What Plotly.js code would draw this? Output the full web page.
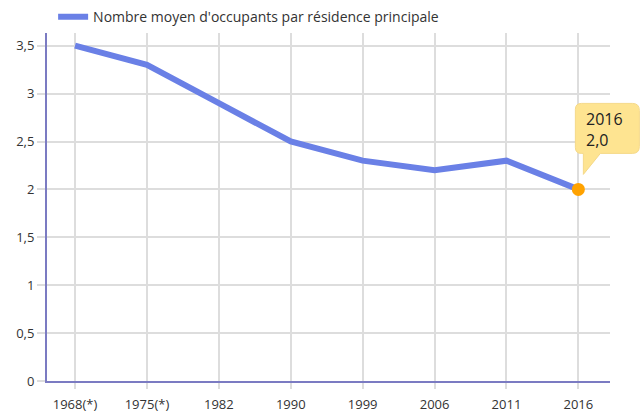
<!DOCTYPE html>
<html><head><meta charset="utf-8">
<script src="https://cdn.plot.ly/plotly-3.0.1.min.js"></script>
<style>html,body{margin:0;padding:0;background:#fff}#chart{width:640px;height:414px}</style>
</head><body><div id="chart"></div>
<script>
const years = ["1968(*)", "1975(*)", "1982", "1990", "1999", "2006", "2011", "2016"];
const occupants = [3.5, 3.3, 2.9, 2.5, 2.3, 2.2, 2.3, 2.0];
const seriesName = "Nombre moyen d'occupants par résidence principale";
const lastIdx = years.length - 1;

const xRange = [-0.39, 7.44];
const yRange = [0, 3.63];
const anchorX = (lastIdx - xRange[0]) / (xRange[1] - xRange[0]);
const anchorY = (occupants[lastIdx] - yRange[0]) / (yRange[1] - yRange[0]);

const traces = [
  {x: years, y: occupants, type: 'scatter', mode: 'lines', name: seriesName,
   line: {color: '#6a80e6', width: 6}, hoverinfo: 'skip'},
  {x: [years[lastIdx]], y: [occupants[lastIdx]], type: 'scatter', mode: 'markers',
   showlegend: false, marker: {color: '#ffa200', size: 13}, hoverinfo: 'skip'}
];

const layout = {
  width: 640, height: 414,
  margin: {l: 47, r: 30, t: 30, b: 33},
  paper_bgcolor: '#fff', plot_bgcolor: '#fff',
  separators: ', ',
  font: {family: 'Open Sans, sans-serif', size: 13, color: '#333'},
  showlegend: true,
  legend: {orientation: 'h', xref: 'container', yref: 'container', x: 0.083, xanchor: 'left', y: 0.997, yanchor: 'top',
           font: {size: 14, color: '#333'}, bgcolor: 'rgba(0,0,0,0)'},
  xaxis: {type: 'category', range: xRange, showgrid: true, gridcolor: '#dddddd', gridwidth: 2,
          ticks: 'outside', ticklen: 6, tickcolor: '#dddddd', tickwidth: 2, ticklabelstandoff: 4,
          showline: true, linecolor: '#7b7bc2', linewidth: 2, fixedrange: true,
          tickfont: {size: 13, color: '#333'}},
  yaxis: {range: yRange, dtick: 0.5, showgrid: true, gridcolor: '#dddddd', gridwidth: 2,
          ticks: 'outside', ticklen: 8, tickcolor: '#dddddd', tickwidth: 2,
          showline: true, linecolor: '#7b7bc2', linewidth: 2, zeroline: false, fixedrange: true,
          tickfont: {size: 13, color: '#333'}},
  shapes: [{
    type: 'path', xref: 'paper', yref: 'paper', xsizemode: 'pixel', ysizemode: 'pixel',
    xanchor: anchorX, yanchor: anchorY,
    path: 'M 3 86 L 54 86 Q 61 86 61 79 L 61 43 Q 61 36 54 36 L 22 36 L 5 15 L 5 36 L 3 36 Q -3 36 -3 42 L -3 80 Q -3 86 3 86 Z',
    fillcolor: '#fee491', line: {color: '#f5d98a', width: 1}
  }],
  annotations: [{
    xref: 'paper', yref: 'paper', x: anchorX, y: anchorY,
    xanchor: 'left', yanchor: 'top', xshift: 6, yshift: 83,
    text: '2016<br>2,0', align: 'left', showarrow: false,
    font: {size: 16, color: '#222'}
  }]
};
Plotly.newPlot('chart', traces, layout, {displayModeBar: false, staticPlot: true});
</script></body></html>
